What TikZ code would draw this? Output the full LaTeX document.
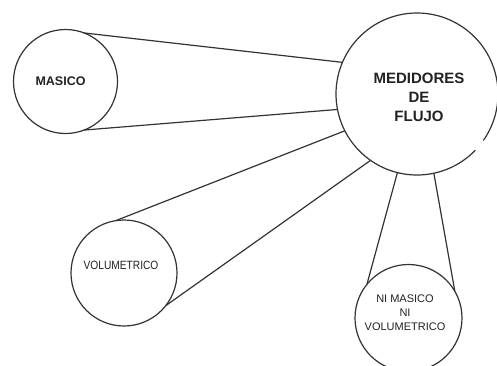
\documentclass[tikz,border=0pt]{standalone}
\usepackage{fontspec}
\setmainfont{Liberation Sans}
\definecolor{ink}{HTML}{333333}
\definecolor{txt}{HTML}{222222}
\tikzset{
  bub/.style={circle, inner sep=0pt, outer sep=0pt, draw=ink, line width=1.2pt},
  conn/.style={draw=ink, line width=1.2pt},
  boldlbl/.style={text=txt, font=\bfseries, align=center},
  thinlbl/.style={text=txt, align=center},
}
\begin{document}
\begin{tikzpicture}[x=1pt,y=-1pt]
\useasboundingbox (0,0) rectangle (497,365);
\clip (0,0) rectangle (497,365);
\fill[white] (0,0) rectangle (497,365);
% central circle (drawn as arc with a small gap)
\node[bub, draw=none, minimum size=162pt,
  label={[boldlbl, font=\bfseries\fontsize{15}{19}\selectfont, xshift=2pt, yshift=-3.5pt]center:MEDIDORES\\DE\\FLUJO}] (med) at (417,94) {};
\draw[conn] (med.-35) arc[start angle=-35, end angle=316, radius=81pt];
% MASICO
\node[bub, minimum size=104pt,
  label={[boldlbl, font=\bfseries\fontsize{12.5}{15}\selectfont, xshift=-5pt]center:MASICO}] (mas) at (65.5,81.5) {};
% VOLUMETRICO
\node[bub, minimum size=106pt,
  label={[thinlbl, font=\fontsize{12}{14}\selectfont, xscale=0.85, xshift=-3.5pt, yshift=8pt]center:VOLUMETRICO}] (vol) at (124,273) {};
% NI MASICO NI VOLUMETRICO
\node[bub, minimum size=107pt,
  label={[thinlbl, font=\fontsize{11}{14}\selectfont, xshift=-3.5pt, yshift=5pt]center:NI MASICO\\NI\\VOLUMETRICO}] (ni) at (408.5,318) {};
% connectors
\draw[conn] (mas.69) -- (med.157.8);
\draw[conn] (mas.-69) -- (med.191.4);
\draw[conn] (vol.99.8) -- (med.207.8);
\draw[conn] (vol.-38.8) -- (med.235.7);
\draw[conn] (ni.141.2) -- (med.256.5);
\draw[conn] (ni.30) -- (med.282.7);
\end{tikzpicture}
\end{document}
